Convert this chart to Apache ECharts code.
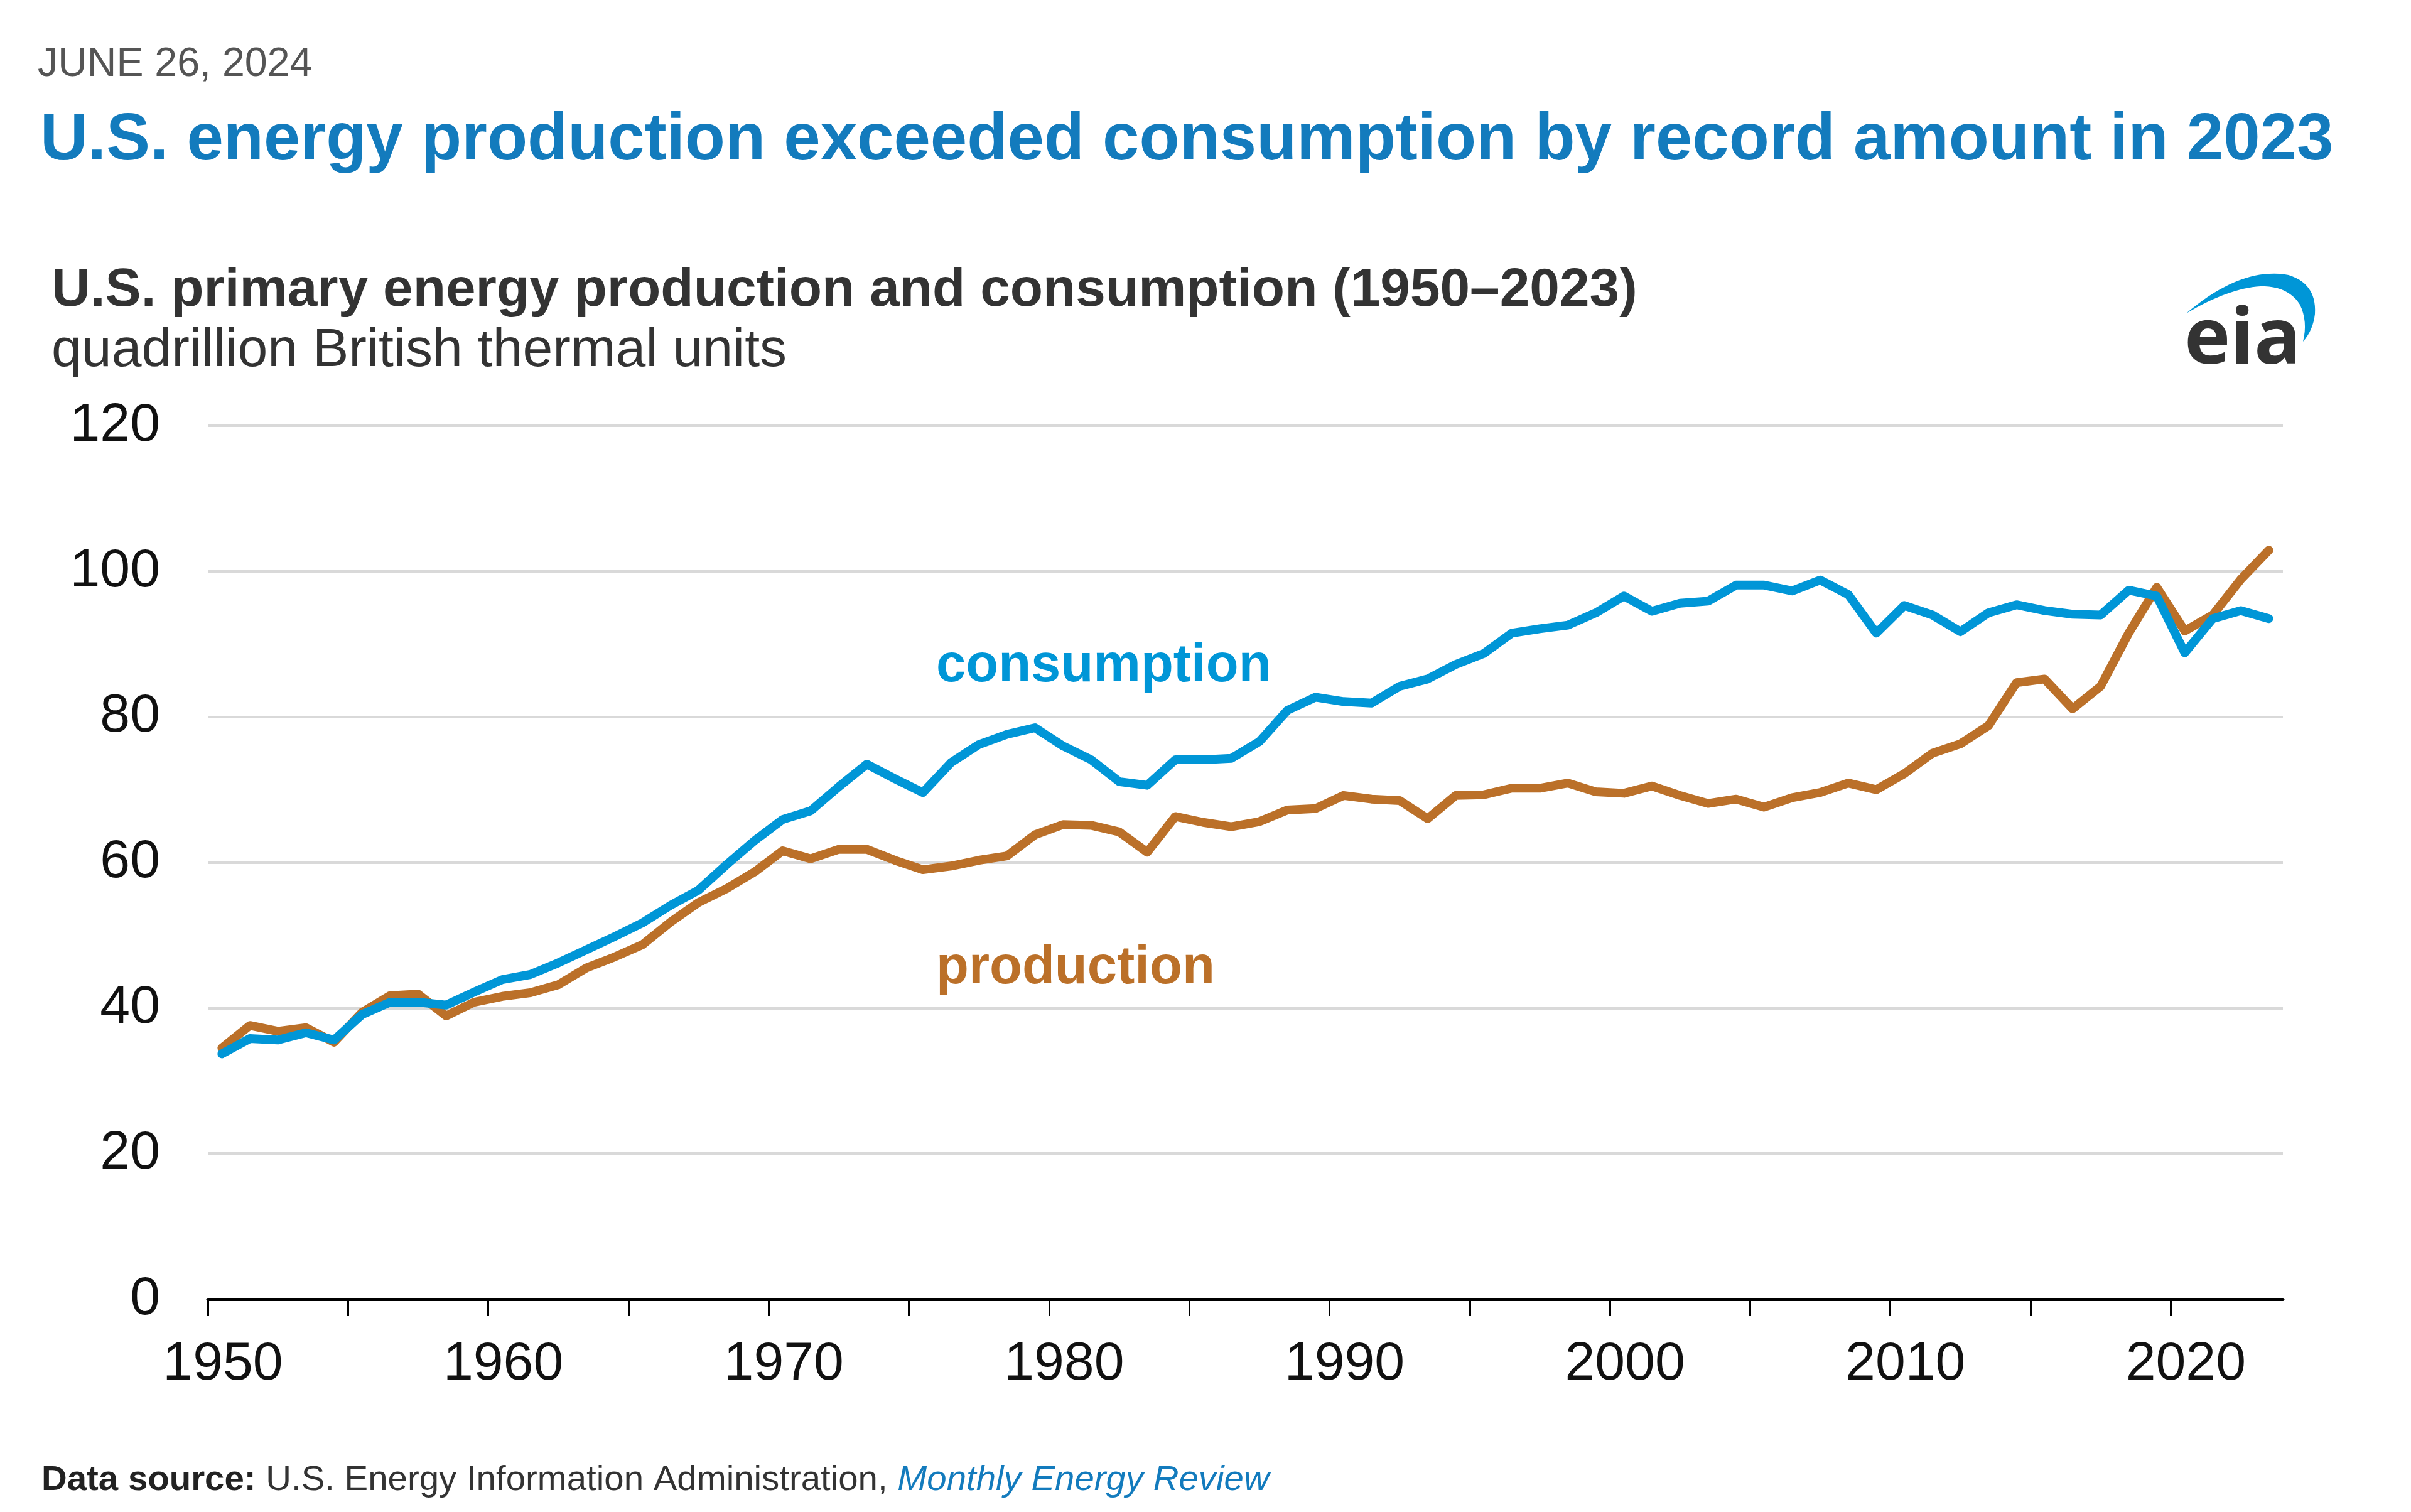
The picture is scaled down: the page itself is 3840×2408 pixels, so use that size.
<!DOCTYPE html>
<html>
<head>
<meta charset="utf-8">
<script src="https://cdn.jsdelivr.net/npm/echarts@6/dist/echarts.min.js"></script>
<style>
html,body{margin:0;padding:0;background:#fff;}
#chart{width:3840px;height:2408px;}
</style>
</head>
<body>
<div id="chart"></div>
<script>
// ---- data (quadrillion Btu) ----
const years = [];
for (let y = 1950; y <= 2023; y++) years.push(y);

const consumption = [
  33.7, 35.8, 35.6, 36.6, 35.6, 39.1, 40.8, 40.8, 40.4, 42.2,
  43.9, 44.6, 46.2, 48.0, 49.8, 51.7, 54.1, 56.2, 59.7, 63.0,
  65.9, 67.1, 70.4, 73.5, 71.5, 69.6, 73.7, 76.2, 77.6, 78.5,
  76.0, 74.1, 71.1, 70.6, 74.1, 74.1, 74.3, 76.6, 80.9, 82.7,
  82.1, 81.9, 84.2, 85.2, 87.2, 88.7, 91.5, 92.1, 92.6, 94.3,
  96.6, 94.5, 95.6, 95.9, 98.1, 98.1, 97.3, 98.8, 96.8, 91.5,
  95.3, 94.0, 91.7, 94.3, 95.4, 94.6, 94.1, 94.0, 97.4, 96.6,
  88.8, 93.5, 94.6, 93.5
];
const production = [
  34.5, 37.6, 36.8, 37.3, 35.3, 39.4, 41.7, 41.9, 38.9, 40.8,
  41.6, 42.1, 43.2, 45.5, 47.0, 48.7, 51.8, 54.5, 56.4, 58.7,
  61.6, 60.5, 61.8, 61.8, 60.3, 59.0, 59.5, 60.3, 60.9, 63.8,
  65.2, 65.1, 64.2, 61.4, 66.3, 65.5, 64.9, 65.6, 67.2, 67.4,
  69.2, 68.7, 68.5, 66.0, 69.2, 69.3, 70.2, 70.2, 70.9, 69.7,
  69.5, 70.5, 69.2, 68.1, 68.7, 67.6, 68.9, 69.6, 70.9, 70.0,
  72.2, 75.0, 76.3, 78.8, 84.7, 85.2, 81.1, 84.2, 91.5, 97.8,
  91.8, 94.0, 98.9, 102.9
];
const yTicks = [0, 20, 40, 60, 80, 100, 120];
const xTickYears = [1950, 1955, 1960, 1965, 1970, 1975, 1980, 1985, 1990, 1995, 2000, 2005, 2010, 2015, 2020];
const xLabelYears = [1950, 1960, 1970, 1980, 1990, 2000, 2010, 2020];

// ---- styling ----
const FONT = '"Liberation Sans", Arial, Helvetica, sans-serif';
const BLUE = '#0096d7';
const BROWN = '#bb7029';
const TITLE_BLUE = '#137bbd';

// eia logo swoosh outline (quadratic curves sampled into a polygon)
function quad(p0, p1, p2, n) {
  const pts = [];
  for (let i = 0; i <= n; i++) {
    const t = i / n, u = 1 - t;
    pts.push([u*u*p0[0] + 2*u*t*p1[0] + t*t*p2[0], u*u*p0[1] + 2*u*t*p1[1] + t*t*p2[1]]);
  }
  return pts;
}
const swoosh = [].concat(
  quad([82,97],[170,22],[245,36],20),
  quad([245,36],[290,50],[287,98],14),
  quad([287,98],[284,124],[268,142],8),
  quad([268,142],[276,110],[263,83],8),
  quad([263,83],[244,53],[200,54],12),
  quad([200,54],[150,57],[82,97],16)
);

const chart = echarts.init(document.getElementById('chart'), null, {renderer: 'canvas'});

const consData = years.map((y, i) => [y, consumption[i]]);
const prodData = years.map((y, i) => [y, production[i]]);

function txt(x, y, text, font, fill, extra) {
  return {type: 'text', x: x, y: y, z: 10,
    style: Object.assign({text: text, font: font, fill: fill, textAlign: 'left', textVerticalAlign: 'top'}, extra || {})};
}

const option = {
  backgroundColor: '#ffffff',
  animation: false,
  grid: {left: 331, right: 204, top: 678, bottom: 339, containLabel: false},
  xAxis: [
    {
      type: 'value', min: 1950, max: 2024, interval: 5,
      axisLine: {show: true, lineStyle: {color: '#000', width: 5}},
      axisTick: {show: true, length: 27, customValues: xTickYears, lineStyle: {color: '#000', width: 3}},
      axisLabel: {
        margin: 61, fontSize: 86, color: '#111', fontFamily: FONT,
        customValues: xLabelYears,
        padding: [0, 0, 0, 48],
        formatter: v => (xLabelYears.indexOf(v) >= 0 ? String(v) : '')
      },
      splitLine: {show: false}
    },
    {
      // data axis: annual values plotted at mid-year
      type: 'value', min: 1949.5, max: 2023.5, show: false,
      splitLine: {show: false}
    }
  ],
  yAxis: {
    type: 'value', min: yTicks[0], max: yTicks[yTicks.length - 1], interval: 20,
    axisLine: {show: false}, axisTick: {show: false},
    axisLabel: {margin: 76, fontSize: 86, color: '#111', fontFamily: FONT},
    splitLine: {show: true, lineStyle: {color: '#d9d9d9', width: 4}}
  },
  series: [
    {
      name: 'production', type: 'line', xAxisIndex: 1, data: prodData,
      symbol: 'none', lineStyle: {color: BROWN, width: 14, join: 'round', cap: 'round'},
      z: 3
    },
    {
      name: 'consumption', type: 'line', xAxisIndex: 1, data: consData,
      symbol: 'none', lineStyle: {color: BLUE, width: 14, join: 'round', cap: 'round'},
      z: 4
    }
  ],
  graphic: [
    txt(60, 71, 'JUNE 26, 2024', '64.5px ' + FONT, '#555555'),
    txt(64, 173, 'U.S. energy production exceeded consumption by record amount in 2023', 'bold 105px ' + FONT, TITLE_BLUE),
    txt(82, 420, 'U.S. primary energy production and consumption (1950\u20132023)', 'bold 85.6px ' + FONT, '#333333'),
    txt(82, 516, 'quadrillion British thermal units', '86px ' + FONT, '#333333'),
    txt(1491, 1019, 'consumption', 'bold 85px ' + FONT, BLUE),
    txt(1491, 1500, 'production', 'bold 85px ' + FONT, BROWN),
    txt(66, 2329, '{b|Data source:} U.S. Energy Information Administration, {i|Monthly Energy Review}', '56.4px ' + FONT, '#333333', {
      rich: {
        b: {font: 'bold 56.4px ' + FONT, fill: '#222222'},
        i: {font: 'italic 56.4px ' + FONT, fill: TITLE_BLUE}
      }
    }),
    {type: 'polygon', x: 3400, y: 402, z: 10, shape: {points: swoosh}, style: {fill: '#0096d7'}},
    txt(3479, 482, 'eia', 'bold 124px "Open Sans", ' + FONT, '#333333')
  ]
};
chart.setOption(option);
</script>
</body>
</html>
